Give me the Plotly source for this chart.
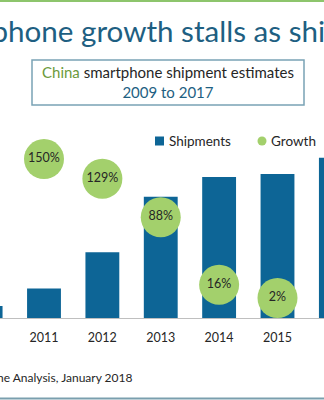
import plotly.graph_objects as go

# China smartphone shipments (millions) and year-on-year growth (%)
years = [2009, 2010, 2011, 2012, 2013, 2014, 2015, 2016, 2017]
shipments = [17, 36, 88, 196, 362, 421, 430, 478, 459]
growth_years = [2010, 2011, 2012, 2013, 2014, 2015, 2016, 2017]
growth = [106, 150, 129, 88, 16, 2, 11, -4]
growth_labels = [f"{g}%" for g in growth]

BAR = "#0d6596"
GREEN = "#a3d06c"
TEAL = "#1e5f82"
FONT = "Lato"

W, H = 324, 400
TOP, BOTTOM = 130, 82
plot_h = H - TOP - BOTTOM


def py(pixel_y):
    """Paper y coordinate for a pixel row measured from the top."""
    return (H - BOTTOM - pixel_y) / plot_h


def px(pixel_x):
    """Paper x coordinate for a pixel column measured from the left."""
    return pixel_x / W


fig = go.Figure()
fig.add_trace(go.Bar(
    x=years, y=shipments, name="Shipments",
    marker=dict(color=BAR, line=dict(width=0)),
    width=0.58,
))
fig.add_trace(go.Scatter(
    x=growth_years, y=growth, name="Growth", yaxis="y2",
    mode="markers+text",
    marker=dict(size=40, color=GREEN, line=dict(width=0)),
    text=growth_labels, textposition="middle center",
    textfont=dict(family=FONT, size=12.5, color="#262626"),
    cliponaxis=False,
))

fig.update_layout(
    width=W, height=H,
    margin=dict(l=0, r=0, t=TOP, b=BOTTOM, autoexpand=False),
    paper_bgcolor="white", plot_bgcolor="white",
    font=dict(family=FONT, color="#262626"),
    xaxis=dict(
        range=[2010.2463, 2015.7966],
        tickmode="array", tickvals=years, ticktext=[str(y) for y in years],
        tickfont=dict(family=FONT, size=12.5, color="#262626"),
        ticklabelstandoff=8,
        showline=True, linecolor="#bfbfbf", linewidth=1,
        showgrid=False, zeroline=False, ticks="",
    ),
    yaxis=dict(range=[0, 561], visible=False, showgrid=False),
    yaxis2=dict(range=[-19.3, 180.9], overlaying="y", visible=False,
                showgrid=False),
    showlegend=False,
)

# compact legend: key swatches with their labels
fig.add_shape(type="rect", xref="paper", yref="paper",
              x0=px(155), x1=px(164), y0=py(145.5), y1=py(136.5),
              fillcolor=BAR, line=dict(width=0))
fig.add_shape(type="circle", xref="paper", yref="paper",
              x0=px(257.5), x1=px(266.5), y0=py(145.5), y1=py(136.5),
              fillcolor=GREEN, line=dict(width=0))
for label, left in (("Shipments", 167), ("Growth", 269)):
    fig.add_annotation(
        xref="paper", yref="paper", x=px(left), y=py(141), xanchor="left",
        yanchor="middle", showarrow=False, text=label,
        font=dict(family=FONT, size=13.5, color="#262626"),
    )

# header rule and footer rule
fig.add_shape(type="line", xref="paper", yref="paper",
              x0=0, x1=1, y0=py(1), y1=py(1),
              line=dict(color="#8dc56c", width=2))
fig.add_shape(type="line", xref="paper", yref="paper",
              x0=0, x1=1, y0=py(398.5), y1=py(398.5),
              line=dict(color="#7a9fae", width=2))

# subtitle box
fig.add_shape(type="rect", xref="paper", yref="paper",
              x0=px(32), x1=px(304), y0=py(105), y1=py(60),
              line=dict(color="#7aa3b5", width=1.5))

fig.add_annotation(
    xref="paper", yref="paper", x=px(168), y=py(82), xanchor="center",
    yanchor="middle", showarrow=False,
    text=(f"<span style='color:#6b9a3c'>China</span> smartphone shipment estimates"
          f"<br><span style='color:{TEAL}'>2009 to 2017</span>"),
    font=dict(family=FONT, size=15, color="#262626"),
)

# main headline
fig.add_annotation(
    xref="paper", yref="paper", x=px(-166), y=py(31), xanchor="left",
    yanchor="middle", showarrow=False,
    text="China smartphone growth stalls as shipments fall",
    font=dict(family=FONT, size=29.6, color=TEAL),
)

# source line
fig.add_annotation(
    xref="paper", yref="paper", x=px(134), y=py(377), xanchor="right",
    yanchor="middle", showarrow=False,
    text="Source: Canalys Smartphone Analysis, January 2018",
    font=dict(family=FONT, size=12, color="#262626"),
)

fig.write_html("out.html")
